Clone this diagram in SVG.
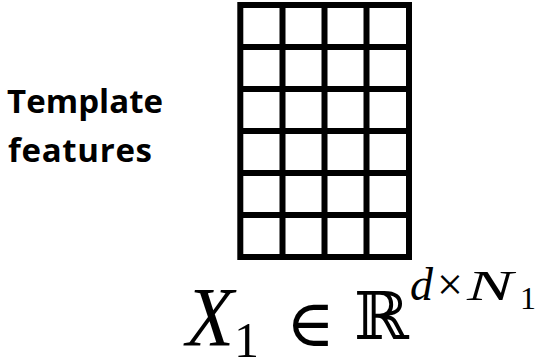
<svg xmlns="http://www.w3.org/2000/svg" width="548" height="357" viewBox="0 0 548 357">
<style>
.grid{fill:#fff;stroke:#000;stroke-width:6}
.gl{stroke:#000;stroke-width:6}
.lbl{font-family:"Open Sans","Liberation Sans",sans-serif;font-weight:700;font-size:33px;fill:#000}
.mi{font-family:"Liberation Serif","DejaVu Serif",serif;font-style:italic;fill:#000}
.mr{font-family:"Liberation Serif","DejaVu Serif",serif;fill:#000}
.ms{font-family:"DejaVu Serif","DejaVu Sans",serif;fill:#000}
</style>
<rect width="548" height="357" fill="#fff"/>
<g id="connectors"/>
<g id="label">
<text class="lbl" x="7" y="113" textLength="156" lengthAdjust="spacing">Template</text>
<text class="lbl" x="8" y="161.5" textLength="144" lengthAdjust="spacing">features</text>
</g>
<g id="matrix">
<rect class="grid" x="240.3" y="5" width="168.7" height="252"/>
<line class="gl" x1="282.5" y1="5" x2="282.5" y2="257"/>
<line class="gl" x1="324.5" y1="5" x2="324.5" y2="257"/>
<line class="gl" x1="366.5" y1="5" x2="366.5" y2="257"/>
<line class="gl" x1="240.3" y1="47" x2="409" y2="47"/>
<line class="gl" x1="240.3" y1="89" x2="409" y2="89"/>
<line class="gl" x1="240.3" y1="131" x2="409" y2="131"/>
<line class="gl" x1="240.3" y1="173" x2="409" y2="173"/>
<line class="gl" x1="240.3" y1="215" x2="409" y2="215"/>
</g>
<g id="formula">
<text class="mi" x="186" y="346" font-size="84" textLength="48" lengthAdjust="spacingAndGlyphs">X</text>
<text class="mr" x="234" y="357" font-size="50">1</text>
<text class="ms" x="286" y="346" font-size="66">∈</text>
<text class="ms" x="354" y="339" font-size="66">ℝ</text>
<text class="mi" x="410" y="300" font-size="46">d</text>
<text class="mr" x="437" y="300" font-size="46">×</text>
<text class="mi" x="467" y="300" font-size="42" textLength="46" lengthAdjust="spacingAndGlyphs">N</text>
<text class="mr" x="520" y="309" font-size="32">1</text>
</g>
</svg>
